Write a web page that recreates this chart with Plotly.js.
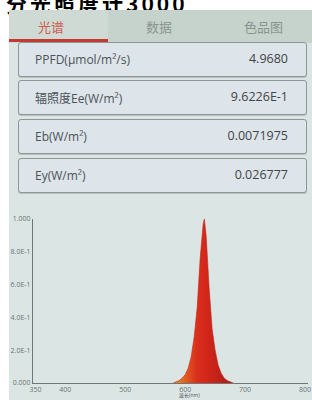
<!DOCTYPE html>
<html><head><meta charset="utf-8">
<script src="https://cdn.plot.ly/plotly-3.0.1.min.js"></script>
<style>
html,body{margin:0;padding:0;width:312px;height:400px;overflow:hidden;background:#fff;font-family:"Noto Sans CJK SC","Noto Sans",sans-serif;}
#screen{position:absolute;left:9px;top:10px;width:303px;height:390px;background:#dbe6e4;}
#top{position:absolute;left:6px;top:-12px;font-size:21px;font-weight:bold;color:#000;letter-spacing:3px;white-space:nowrap;}
#tabs{position:absolute;left:0;top:0;width:303px;height:33px;background:#c6d3cc;}
.tab{position:absolute;top:7px;font-size:13px;color:#8a9490;}
#t1{left:0;width:99px;height:33px;top:0;background:#cfdad4;position:absolute;}
#t1 span{position:absolute;left:29px;top:7px;font-size:13px;color:#cf5a52;}
#ul{position:absolute;left:0;top:29px;width:99px;height:3px;background:#c23a30;}
.box{position:absolute;left:9px;width:287px;height:33px;background:#dde4ea;border:1px solid #8e9696;border-radius:3px;box-shadow:0 1px 0 #b8c0c0;}
.box .l{position:absolute;left:16px;top:8px;font-size:12px;color:#4c5357;font-family:"Open Sans","Noto Sans CJK SC",sans-serif;}
.box .v{position:absolute;right:18px;top:7px;font-size:12.5px;color:#3f4447;font-family:"Open Sans",sans-serif;}
#chart{position:absolute;left:0;top:200px;width:312px;height:200px;}
</style></head>
<body>
<div id="top">分光照度计3000</div>
<div id="screen">
 <div id="tabs">
  <div id="t1"><span>光谱</span></div>
  <div id="ul"></div>
  <div class="tab" style="left:137px">数据</div>
  <div class="tab" style="left:235px">色品图</div>
 </div>
 <div class="box" style="top:32px"><span class="l">PPFD(μmol/m²/s)</span><span class="v">4.9680</span></div>
 <div class="box" style="top:70px"><span class="l">辐照度Ee(W/m²)</span><span class="v">9.6226E-1</span></div>
 <div class="box" style="top:109px"><span class="l">Eb(W/m²)</span><span class="v">0.0071975</span></div>
 <div class="box" style="top:148px"><span class="l">Ey(W/m²)</span><span class="v">0.026777</span></div>
</div>
<div id="chart"></div>
<script>
// Spectrum data
var wavelength = [580,585,590,595,600,605,610,615,620,625,630,632,635,640,645,650,655,660,665,670,675,680];
var intensity  = [0.0,0.008,0.015,0.03,0.05,0.09,0.16,0.28,0.46,0.76,0.97,1.0,0.9,0.58,0.33,0.2,0.11,0.06,0.03,0.015,0.006,0.0];
var yTickVals = [0,0.2,0.4,0.6,0.8,1.0];
var yTickText = ["0.000","2.0E-1","4.0E-1","6.0E-1","8.0E-1","1.000"];
var xTickVals = [350,400,500,600,700,800];
var xTitle = "波长(nm)";

var traces=[{
  x:wavelength,y:intensity,type:'scatter',mode:'lines',fill:'tozeroy',
  fillgradient:{type:'horizontal',start:585,stop:670,
    colorscale:[[0,'#e8862a'],[0.2,'#e05a1e'],[0.4,'#d8301c'],[0.6,'#d2261a'],[1,'#b41f17']]},
  line:{color:'#c8241a',width:0.6},hoverinfo:'skip',showlegend:false
}];
var layout={
  width:312,height:200,margin:{l:33,r:4,t:19,b:17},
  paper_bgcolor:'rgba(0,0,0,0)',plot_bgcolor:'rgba(0,0,0,0)',
  xaxis:{range:[346,805],tickvals:xTickVals,ticks:'',showgrid:false,zeroline:false,showline:true,linecolor:'#6f7775',linewidth:1,
    tickfont:{size:7,color:'#6a7270'}},
  yaxis:{range:[0,1],tickvals:yTickVals,ticktext:yTickText,ticks:'',showgrid:false,zeroline:false,showline:true,linecolor:'#6f7775',linewidth:1,
    tickfont:{size:7,color:'#6a7270'}},
  annotations:[{text:xTitle,xref:'x',x:608,yref:'paper',y:0,yanchor:'top',yshift:-8,showarrow:false,borderpad:0,
    font:{size:5,color:'#555'}}],
  font:{family:'"Open Sans","Noto Sans CJK SC",sans-serif'}
};
Plotly.newPlot('chart',traces,layout,{displayModeBar:false,staticPlot:true});
</script>
</body></html>
